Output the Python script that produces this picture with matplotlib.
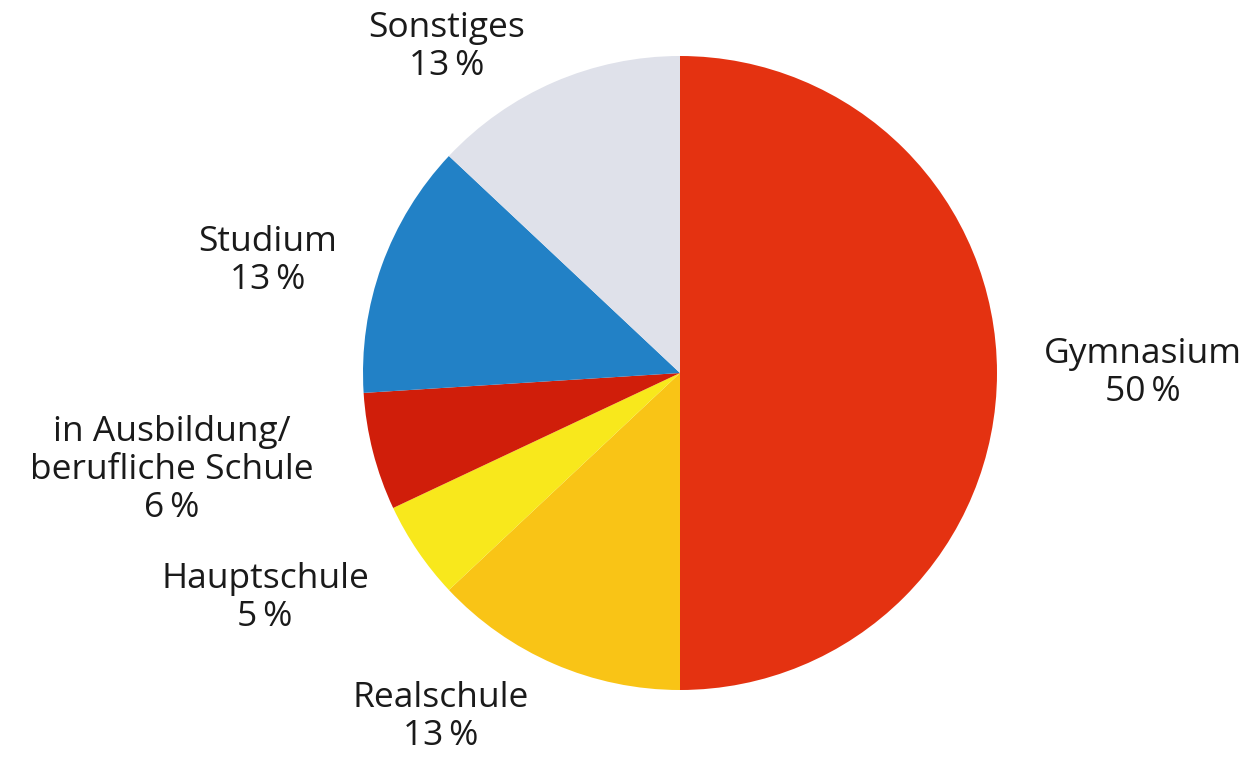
import matplotlib.pyplot as plt

categories = ['Gymnasium', 'Realschule', 'Hauptschule',
              'in Ausbildung/\nberufliche Schule', 'Studium', 'Sonstiges']
shares = [50, 13, 5, 6, 13, 13]
colors = ['#E43211', '#F9C416', '#F8E81C', '#D01E0A', '#2281C6', '#DFE1EA']

# label anchor points (pixel coords, top-left origin)
label_pos = [(1143, 373), (441, 717), (265, 598), (172, 470), (268, 261), (447, 47)]

W, H = 1258, 757
fig = plt.figure(figsize=(W / 100, H / 100), dpi=100)
ax = fig.add_axes([0, 0, 1, 1])

ax.pie(shares, colors=colors, startangle=90, counterclock=False,
       center=(680, H - 373), radius=317, frame=True,
       wedgeprops=dict(linewidth=0))
ax.set_xlim(0, W)
ax.set_ylim(0, H)
ax.set_aspect('equal')
ax.axis('off')

for name, val, (x, y) in zip(categories, shares, label_pos):
    ax.text(x, H - y, f'{name}\n{val}\u2009%', ha='center', va='center',
            fontsize=25.5, family=['Open Sans', 'DejaVu Sans'],
            color='#1a1a1a', linespacing=1.17)

fig.savefig('out.png', dpi=100)
